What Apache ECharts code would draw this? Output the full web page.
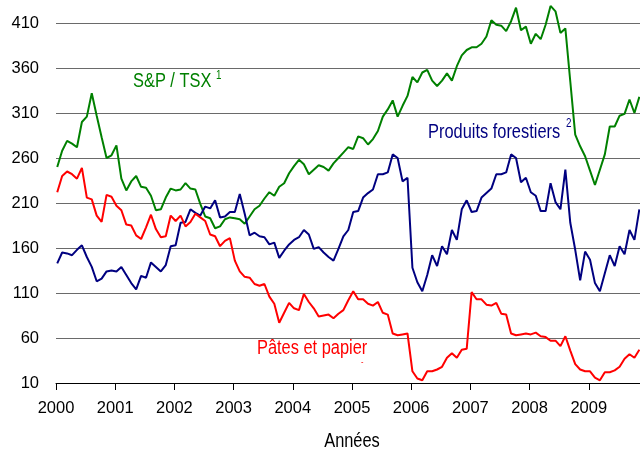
<!DOCTYPE html>
<html>
<head>
<meta charset="utf-8">
<script src="https://cdn.jsdelivr.net/npm/echarts@6.0.0/dist/echarts.min.js"></script>
<style>
  html, body { margin: 0; padding: 0; background: #fff; }
  #chart { width: 640px; height: 454px; }
</style>
</head>
<body>
<div id="chart"></div>
<script>
// axes
const years = [2000, 2001, 2002, 2003, 2004, 2005, 2006, 2007, 2008, 2009];
const yTicks = [10, 60, 110, 160, 210, 260, 310, 360, 410];

// monthly values, Jan 2000 -> Nov 2009
const tsxValues = [
  250, 268, 279, 276, 272, 300, 306, 332, 307, 283, 260, 263,
  274, 237, 224, 234, 240, 228, 227, 218, 202, 203, 216, 226,
  224, 225, 232, 226, 225, 209, 195, 193, 182, 184, 192, 194,
  193, 192, 187, 195, 203, 207, 215, 222, 218, 228, 232, 243,
  251, 258, 253, 242, 247, 252, 250, 246, 254, 260, 266, 272,
  270, 284, 282, 275, 281, 290, 306, 314, 324, 306, 318, 329,
  350, 344, 355, 358, 346, 340, 346, 354, 346, 362, 374, 380,
  383, 383, 387, 395, 413, 408, 407, 401, 412, 427, 402, 406,
  387, 398, 392, 408, 429, 423, 399, 404, 345, 286, 273, 262,
  246, 230, 247, 264, 295, 295, 307, 309, 325, 310, 328
];
const forestValues = [
  143, 155, 154, 152, 158, 163, 150, 139, 123, 126, 134, 135,
  134, 139, 130, 121, 114, 129, 127, 144, 139, 134, 141, 162,
  163, 188, 189, 203, 199, 196, 206, 204, 213, 194, 195, 200,
  200, 220, 198, 174, 177, 173, 172, 164, 166, 149, 157, 164,
  169, 172, 180, 175, 159, 161, 155, 150, 146, 159, 173, 180,
  200, 201, 216, 221, 225, 242, 242, 244, 264, 260, 234, 238,
  138, 122, 112, 130, 152, 140, 162, 153, 180, 169, 203, 213,
  200, 201, 216, 221, 226, 242, 242, 244, 264, 260, 233, 238,
  222, 218, 201, 201, 232, 211, 203, 247, 188, 158, 124, 156,
  147, 121, 112, 132, 152, 140, 162, 153, 180, 169, 203
];
const pulpValues = [
  222, 240, 245, 242, 237, 249, 216, 214, 196, 189, 219, 217,
  207, 202, 186, 185, 174, 170, 183, 197, 181, 172, 173, 196,
  190, 196, 184, 189, 198, 194, 190, 175, 173, 162, 168, 171,
  146, 134, 128, 127, 120, 118, 120, 106, 98, 77, 88, 99,
  93, 91, 109, 100, 93, 84, 85, 86, 82, 87, 91, 102,
  112, 103, 103, 98, 96, 100, 88, 86, 65, 63, 64, 65,
  23, 15, 13, 23, 23, 25, 28, 38, 43, 38, 47, 48,
  111, 103, 103, 97, 96, 99, 87, 86, 65, 63, 64, 65,
  64, 66, 62, 61, 57, 57, 51, 62, 46, 31, 25, 23,
  23, 16, 13, 22, 22, 24, 28, 37, 42, 38, 47
];

const FONT = '"Liberation Sans", Arial, sans-serif';
const NARROW = 0.82; // the original lettering is condensed

// month index -> position on the year axis
function toPoints(values) {
  return values.map((v, i) => [2000 + (i + 0.25) / 12, v]);
}

function label(text, x, y, color, size, align) {
  return {
    type: "text",
    x: x,
    y: y,
    scaleX: NARROW,
    style: {
      text: text,
      fill: color,
      fontSize: size,
      fontFamily: FONT,
      align: align || "left",
      verticalAlign: "middle",
    },
  };
}

const chart = echarts.init(document.getElementById("chart"), null, { renderer: "canvas" });

const option = {
  animation: false,
  backgroundColor: "#fff",
  textStyle: { fontFamily: FONT },
  grid: { left: 56, right: 0, top: 23, bottom: 71 },
  xAxis: {
    type: "value",
    min: 2000,
    max: 2009.865,
    axisLine: { show: true, lineStyle: { color: "#000", width: 1 } },
    axisTick: {
      show: true,
      customValues: years,
      length: 7,
      lineStyle: { color: "#000", width: 1 },
    },
    axisLabel: {
      customValues: years,
      formatter: (v) => String(v),
      fontSize: 16.5,
      fontFamily: FONT,
      color: "#000",
      margin: 17,
    },
    splitLine: { show: false },
  },
  yAxis: {
    type: "value",
    min: 10,
    max: 410,
    axisLine: { show: false },
    axisTick: { show: false, customValues: yTicks },
    axisLabel: {
      customValues: yTicks,
      fontSize: 16.5,
      fontFamily: FONT,
      color: "#000",
      margin: 17,
    },
    splitLine: { show: true, lineStyle: { color: "#6a6a6a", width: 1 } },
  },
  series: [
    {
      name: "S&P / TSX",
      type: "line",
      data: toPoints(tsxValues),
      showSymbol: false,
      clip: false,
      lineStyle: { color: "#008000", width: 2 },
      itemStyle: { color: "#008000" },
    },
    {
      name: "Produits forestiers",
      type: "line",
      data: toPoints(forestValues),
      showSymbol: false,
      clip: false,
      lineStyle: { color: "#000080", width: 2 },
      itemStyle: { color: "#000080" },
    },
    {
      name: "Pâtes et papier",
      type: "line",
      data: toPoints(pulpValues),
      showSymbol: false,
      clip: false,
      lineStyle: { color: "#ff0000", width: 2 },
      itemStyle: { color: "#ff0000" },
    },
  ],
  graphic: [
    label("S&P / TSX", 133, 81, "#008000", 20),
    label("1", 216, 76, "#008000", 12),
    label("Produits forestiers", 428, 132, "#000080", 20),
    label("2", 566, 124, "#000080", 12),
    label("Pâtes et papier", 257, 348, "#ff0000", 20),
    label("-", 361, 363, "#ff0000", 9),
    label("Années", 352, 441, "#000", 20, "center"),
  ],
};

chart.setOption(option);
</script>
</body>
</html>
